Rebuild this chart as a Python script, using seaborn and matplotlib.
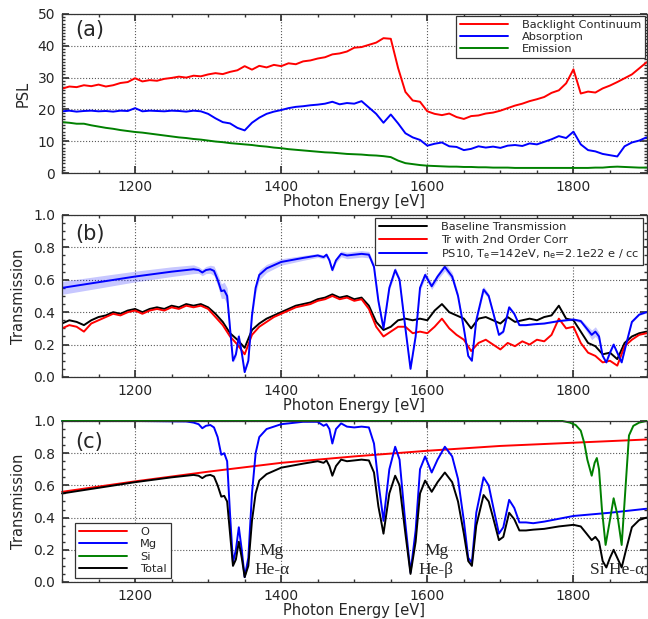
import matplotlib
matplotlib.use("Agg")
import matplotlib.pyplot as plt
import numpy as np
import seaborn as sns
from matplotlib.ticker import MultipleLocator

sns.set_theme(style="ticks")
plt.rcParams.update({"font.family": ["DejaVu Sans"], "axes.linewidth": 0.9})

# ── Data ─────────────────────────────────────────────────────────────────────
grid = np.arange(1100, 1901, 10)

# (a) raw PSL spectra
backlight = [26.5, 27.2, 27.0, 27.6, 27.3, 27.8, 27.2, 27.6, 28.3, 28.6,
             29.8, 28.8, 29.2, 29.0, 29.6, 29.9, 30.3, 30.0, 30.6, 30.4,
             31.0, 31.4, 31.1, 31.8, 32.3, 33.6, 32.5, 33.7, 33.2, 34.0,
             33.6, 34.5, 34.2, 35.1, 35.4, 36.0, 36.4, 37.3, 37.6, 38.2,
             39.4, 39.6, 40.3, 41.0, 42.4, 42.2, 33.0, 25.5, 22.8, 22.4,
             19.4, 18.6, 18.2, 18.7, 17.6, 17.0, 17.9, 18.1, 18.7, 19.0,
             19.6, 20.4, 21.2, 21.8, 22.6, 23.2, 23.9, 25.2, 26.0, 28.2,
             32.6, 25.0, 25.6, 25.3, 26.6, 27.5, 28.6, 29.8, 31.0, 32.9,
             34.8]
absorption = [19.4, 19.6, 19.3, 19.5, 19.6, 19.4, 19.5, 19.3, 19.6, 19.5,
              20.4, 19.4, 19.6, 19.5, 19.4, 19.6, 19.5, 19.3, 19.6, 19.4,
              18.6, 17.2, 16.0, 15.6, 14.2, 13.4, 15.8, 17.4, 18.6, 19.3,
              19.8, 20.4, 20.8, 21.0, 21.3, 21.5, 21.8, 22.4, 21.6, 22.0,
              21.8, 22.6, 20.6, 18.6, 15.8, 18.4, 15.6, 12.5, 11.2, 10.4,
              8.6, 9.2, 9.6, 8.4, 8.2, 7.2, 7.6, 8.4, 8.0, 8.3,
              7.9, 8.6, 8.8, 8.5, 9.3, 9.0, 9.8, 10.6, 11.6, 11.0,
              13.0, 9.0, 7.2, 6.8, 6.0, 5.6, 5.2, 8.4, 9.6, 10.2,
              11.2]
emission = [16.0, 15.8, 15.5, 15.5, 15.0, 14.6, 14.2, 13.9, 13.5, 13.2,
            12.9, 12.7, 12.4, 12.1, 11.8, 11.5, 11.2, 11.0, 10.7, 10.5,
            10.2, 9.9, 9.7, 9.4, 9.2, 9.0, 8.8, 8.5, 8.3, 8.0,
            7.8, 7.5, 7.3, 7.1, 6.9, 6.7, 6.5, 6.4, 6.2, 6.0,
            5.9, 5.8, 5.6, 5.5, 5.3, 5.0, 3.9, 3.1, 2.8, 2.5,
            2.3, 2.2, 2.1, 2.0, 2.0, 1.9, 1.9, 1.8, 1.8, 1.7,
            1.7, 1.7, 1.6, 1.6, 1.6, 1.6, 1.6, 1.6, 1.6, 1.6,
            1.6, 1.6, 1.6, 1.7, 1.7, 1.9, 2.0, 1.9, 1.8, 1.7,
            1.7]

# (b) measured transmission
baseline_tr = [.33, .35, .34, .32, .35, .37, .38, .40, .39, .41,
               .42, .40, .42, .43, .42, .44, .43, .45, .44, .45,
               .43, .39, .34, .27, .23, .18, .29, .33, .36, .38,
               .40, .42, .44, .45, .46, .48, .49, .51, .49, .50,
               .48, .49, .44, .34, .29, .31, .35, .36, .35, .36,
               .35, .41, .45, .40, .38, .36, .30, .36, .37, .35,
               .33, .37, .34, .35, .36, .35, .37, .38, .44, .36,
               .35, .28, .21, .19, .14, .15, .11, .21, .25, .27,
               .28]
corr_tr = [.30, .32, .31, .28, .33, .35, .37, .39, .38, .40,
           .41, .39, .41, .42, .41, .43, .42, .44, .43, .44,
           .42, .37, .32, .25, .20, .14, .26, .31, .34, .37,
           .39, .41, .43, .44, .45, .47, .48, .50, .48, .49,
           .47, .48, .42, .31, .25, .28, .31, .31, .27, .28,
           .27, .31, .36, .30, .26, .23, .16, .21, .23, .20,
           .17, .21, .19, .22, .20, .23, .22, .26, .36, .30,
           .31, .21, .15, .13, .09, .10, .07, .19, .23, .26,
           .27]

# (c) model transmission per element (total also used for PS10 in (b))
total_e = [1100, 1150, 1200, 1250, 1280, 1287, 1292, 1297, 1303, 1308,
           1313, 1318, 1322, 1326, 1330, 1334, 1338, 1342, 1346, 1350,
           1355, 1360, 1365, 1370, 1380, 1400, 1430, 1450, 1458, 1462,
           1466, 1470, 1475, 1482, 1490, 1500, 1510, 1520, 1527, 1533,
           1540, 1548, 1556, 1562, 1570, 1577, 1584, 1590, 1597, 1606,
           1614, 1624, 1634, 1642, 1650, 1656, 1661, 1667, 1677, 1684,
           1690, 1698, 1704, 1712, 1719, 1726, 1735, 1745, 1760, 1780,
           1800, 1810, 1818, 1825, 1830, 1835, 1840, 1845, 1850, 1855,
           1860, 1866, 1872, 1880, 1890, 1900]
total_t = [0.55, 0.585, 0.62, 0.65, 0.665, 0.66, 0.645, 0.66, 0.665, 0.655,
           0.6, 0.53, 0.535, 0.5, 0.3, 0.1, 0.14, 0.25, 0.15, 0.03,
           0.1, 0.38, 0.55, 0.63, 0.67, 0.71, 0.735, 0.75, 0.74, 0.755,
           0.72, 0.66, 0.72, 0.76, 0.75, 0.755, 0.76, 0.755, 0.68, 0.47,
           0.3, 0.55, 0.66, 0.6, 0.3, 0.05, 0.25, 0.55, 0.63, 0.56,
           0.62, 0.68, 0.62, 0.5, 0.3, 0.13, 0.1, 0.35, 0.54, 0.5,
           0.4, 0.26, 0.28, 0.43, 0.39, 0.32, 0.32, 0.325, 0.33, 0.345,
           0.355, 0.345, 0.3, 0.26, 0.28, 0.25, 0.13, 0.09, 0.15, 0.2,
           0.15, 0.09, 0.2, 0.34, 0.385, 0.4]
ps10_err = [.04, .037, .033, .03, .027, .02, .02, .022, .025, .03,
            .035, .045, .05, .05, .03, .01, .02, .025, .015, .005,
            .01, .03, .035, .03, .025, .02, .015, .012, .012, .012,
            .012, .012, .015, .018, .02, .02, .02, .02, .02, .015,
            .01, .015, .02, .015, .01, .005, .01, .02, .02, .02,
            .02, .025, .025, .02, .01, .005, .005, .015, .02, .015,
            .01, .005, .008, .012, .01, .005, .004, .004, .004, .004,
            .006, .012, .02, .03, .03, .025, .012, .006, .01, .012,
            .008, .005, .01, .006, .005, .005]

o_e = [1100, 1200, 1300, 1400, 1500, 1600, 1700, 1800, 1900]
o_t = [0.56, 0.625, 0.685, 0.74, 0.78, 0.815, 0.845, 0.865, 0.885]

mg_e = [1100, 1200, 1270, 1280, 1287, 1292, 1297, 1303, 1308, 1313,
        1318, 1322, 1326, 1330, 1334, 1338, 1342, 1346, 1350, 1355,
        1360, 1365, 1370, 1380, 1400, 1430, 1450, 1458, 1462, 1466,
        1470, 1475, 1482, 1490, 1500, 1510, 1520, 1527, 1533, 1540,
        1548, 1556, 1562, 1570, 1577, 1584, 1590, 1597, 1606, 1614,
        1624, 1634, 1642, 1650, 1656, 1661, 1667, 1677, 1684, 1690,
        1698, 1704, 1712, 1719, 1726, 1735, 1745, 1760, 1800, 1850,
        1900]
mg_t = [1.0, 1.0, 0.997, 0.99, 0.98, 0.955, 0.97, 0.975, 0.96, 0.9,
        0.79, 0.8, 0.75, 0.42, 0.12, 0.2, 0.34, 0.2, 0.03, 0.15,
        0.55, 0.8, 0.9, 0.95, 0.98, 0.995, 0.995, 0.97, 0.98, 0.95,
        0.86, 0.95, 0.985, 0.965, 0.96, 0.965, 0.96, 0.86, 0.62, 0.38,
        0.7, 0.84, 0.76, 0.36, 0.06, 0.32, 0.7, 0.78, 0.68, 0.76,
        0.84, 0.78, 0.64, 0.38, 0.15, 0.12, 0.43, 0.65, 0.6, 0.47,
        0.3, 0.34, 0.51, 0.46, 0.37, 0.37, 0.365, 0.375, 0.41, 0.43,
        0.455]

si_e = [1100, 1785, 1795, 1803, 1810, 1815, 1819, 1825, 1829, 1832, 1835,
        1839, 1844, 1849, 1855, 1860, 1866, 1870, 1876, 1882, 1890, 1900]
si_t = [1.0, 1.0, 0.99, 0.975, 0.94, 0.86, 0.76, 0.66, 0.74, 0.77, 0.7,
        0.45, 0.23, 0.36, 0.52, 0.42, 0.23, 0.5, 0.91, 0.97, 0.99, 1.0]

RED, BLUE, GREEN, BLACK = "#ff0000", "#0000ff", "#008000", "#000000"
LW = 1.4

# ── Figure ───────────────────────────────────────────────────────────────────
fig = plt.figure(figsize=(6.48, 6.19), dpi=100)
ax_a = fig.add_axes([0.0957, 0.7205, 0.902, 0.2569])
ax_b = fig.add_axes([0.0957, 0.3910, 0.902, 0.2617])
ax_c = fig.add_axes([0.0957, 0.0598, 0.902, 0.2601])


def style_axes(ax, ymax, ymajor, yminor, ylabel):
    ax.set_xlim(1100, 1900)
    ax.set_ylim(0, ymax)
    ax.xaxis.set_major_locator(MultipleLocator(200))
    ax.xaxis.set_minor_locator(MultipleLocator(50))
    ax.yaxis.set_major_locator(MultipleLocator(ymajor))
    ax.yaxis.set_minor_locator(MultipleLocator(yminor))
    ax.tick_params(which="both", direction="in", top=True, right=True,
                   labelsize=10, pad=5, color="0.2")
    ax.tick_params(which="major", length=5)
    ax.tick_params(which="minor", length=2.5)
    ax.grid(True, which="major", ls=":", color="0.35", lw=0.8)
    ax.set_xlabel("Photon Energy [eV]", fontsize=10.5, labelpad=0)
    ax.set_ylabel(ylabel, fontsize=10.5, labelpad=5)
    for s in ax.spines.values():
        s.set_color("0.2")


def legend(ax, **kw):
    leg = ax.legend(fancybox=False, edgecolor="0.2", framealpha=1, fontsize=8.2,
                    handlelength=4.2, handletextpad=1.2, labelspacing=0.2,
                    borderpad=0.35, **kw)
    leg.get_frame().set_linewidth(0.9)
    return leg


# (a)
sns.lineplot(x=grid, y=backlight, ax=ax_a, color=RED, lw=LW, label="Backlight Continuum")
sns.lineplot(x=grid, y=absorption, ax=ax_a, color=BLUE, lw=LW, label="Absorption")
sns.lineplot(x=grid, y=emission, ax=ax_a, color=GREEN, lw=LW, label="Emission")
style_axes(ax_a, 50, 10, 1, "PSL")
legend(ax_a, loc="upper right", borderaxespad=0.15)
ax_a.text(0.022, 0.9, "(a)", transform=ax_a.transAxes, fontsize=15, va="center")

# (b)
lo = np.array(total_t) - np.array(ps10_err)
hi = np.array(total_t) + np.array(ps10_err)
ax_b.fill_between(total_e, lo, hi, color=BLUE, alpha=0.22, lw=0)
sns.lineplot(x=grid, y=baseline_tr, ax=ax_b, color=BLACK, lw=LW, label="Baseline Transmission")
sns.lineplot(x=grid, y=corr_tr, ax=ax_b, color=RED, lw=LW, label="Tr with 2nd Order Corr")
sns.lineplot(x=total_e, y=total_t, ax=ax_b, color=BLUE, lw=LW,
             label=r"PS10, T$_\mathrm{e}$=142eV, n$_\mathrm{e}$=2.1e22 e / cc")
style_axes(ax_b, 1.0, 0.2, 0.05, "Transmission")
legend(ax_b, loc="upper right", borderaxespad=0.3)
ax_b.text(0.022, 0.88, "(b)", transform=ax_b.transAxes, fontsize=15, va="center")

# (c)
sns.lineplot(x=o_e, y=o_t, ax=ax_c, color=RED, lw=LW, label="O")
sns.lineplot(x=mg_e, y=mg_t, ax=ax_c, color=BLUE, lw=LW, label="Mg")
sns.lineplot(x=si_e, y=si_t, ax=ax_c, color=GREEN, lw=LW, label="Si")
sns.lineplot(x=total_e, y=total_t, ax=ax_c, color=BLACK, lw=LW, label="Total")
for line in ax_c.get_lines():
    line.set_clip_on(False)  # Mg and Si sit on the 1.0 frame line
style_axes(ax_c, 1.0, 0.2, 0.05, "Transmission")
legend(ax_c, loc="lower left", bbox_to_anchor=(0.022, 0.025), borderaxespad=0)
ax_c.text(0.022, 0.87, "(c)", transform=ax_c.transAxes, fontsize=15, va="center")

serif = dict(family=["Liberation Serif", "DejaVu Serif"], fontsize=12.5, ha="center", va="center")
ax_c.text(1387, 0.19, "Mg", **serif)
ax_c.text(1387, 0.075, "He-α", **serif)
ax_c.text(1612, 0.19, "Mg", **serif)
ax_c.text(1612, 0.075, "He-β", **serif)
ax_c.text(1823, 0.075, "Si He-α", **{**serif, "ha": "left"})

fig.savefig("out.png", dpi=100)
